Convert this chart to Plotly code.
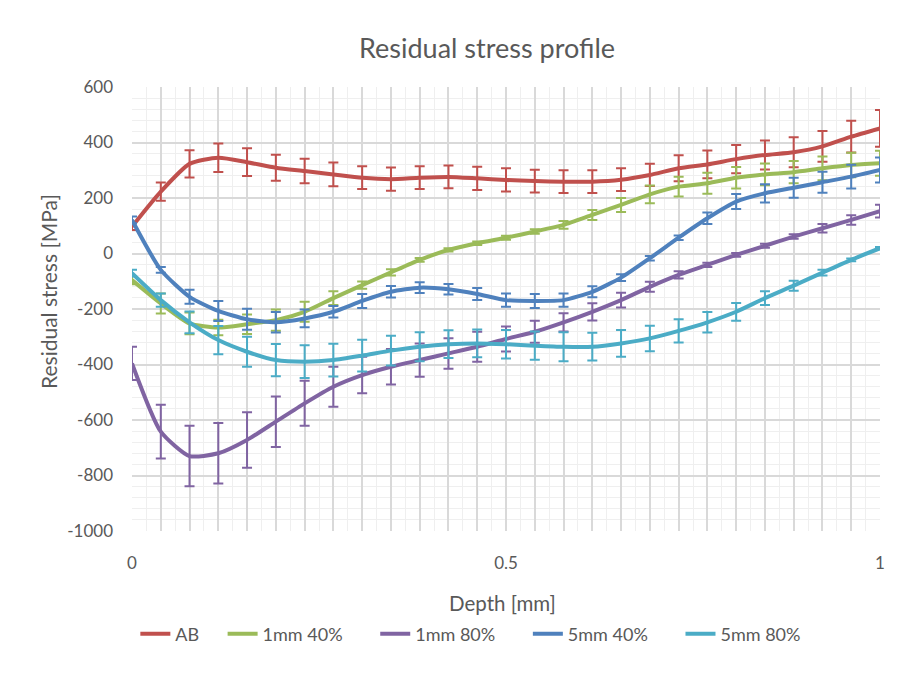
import plotly.graph_objects as go

depth = [0, 0.0385, 0.0769, 0.1154, 0.1538, 0.1923, 0.2308, 0.2692, 0.3077, 0.3462,
         0.3846, 0.4231, 0.4615, 0.5, 0.5385, 0.5769, 0.6154, 0.6538, 0.6923, 0.7308,
         0.7692, 0.8077, 0.8462, 0.8846, 0.9231, 0.9615, 1.0]

ab = [97, 223, 323, 345, 329, 309, 297, 285, 273, 268, 273, 276, 271, 265, 261, 259, 259,
      266, 283, 307, 321, 340, 355, 365, 386, 421, 451]
ab_err = [12, 33, 49, 51, 50, 47, 44, 43, 41, 42, 41, 41, 42, 42, 41, 41, 41, 41, 40, 47,
          50, 51, 52, 54, 55, 57, 66]

g40 = [-96, -180, -252, -267, -255, -240, -210, -161, -114, -68, -23, 13, 37, 57, 79, 103,
       139, 175, 213, 241, 253, 273, 285, 293, 307, 319, 325]
g40_err = [15, 36, 39, 28, 35, 38, 36, 25, 13, 11, 7, 6, 6, 7, 8, 14, 18, 25, 32, 36, 38,
           39, 39, 40, 43, 44, 45]

p80 = [-396, -642, -730, -720, -672, -606, -540, -480, -438, -408, -384, -360, -336, -308,
       -282, -248, -210, -168, -120, -77, -41, -5, 28, 61, 91, 121, 153]
p80_err = [60, 97, 109, 109, 100, 91, 81, 72, 66, 64, 60, 55, 54, 45, 40, 33, 31, 27, 18,
           13, 8, 7, 7, 8, 15, 17, 23]

b40 = [121, -59, -156, -207, -237, -248, -234, -210, -171, -138, -123, -129, -146, -168,
       -171, -168, -138, -87, -17, 57, 127, 187, 217, 237, 257, 277, 301]
b40_err = [12, 10, 25, 36, 38, 37, 32, 21, 25, 21, 19, 19, 22, 24, 25, 24, 20, 12, 8, 8,
           21, 27, 33, 36, 38, 43, 45]

c80 = [-71, -168, -248, -312, -354, -384, -390, -384, -368, -350, -336, -327, -324, -327,
       -332, -336, -336, -324, -306, -279, -248, -210, -161, -116, -69, -23, 19]
c80_err = [12, 24, 39, 51, 54, 58, 59, 59, 57, 54, 52, 50, 50, 51, 51, 52, 50, 48, 46, 42,
           37, 32, 25, 18, 10, 5, 4]

y_ticks = [-1000, -800, -600, -400, -200, 0, 200, 400, 600]
y_labels = ["-1000", "-800", "-600", "-400", "-200", "0", "200", "400", "600"]

series = [
    ("AB", ab, ab_err, "#C0504D"),
    ("1mm 40%", g40, g40_err, "#9BBB59"),
    ("1mm 80%", p80, p80_err, "#8064A2"),
    ("5mm 40%", b40, b40_err, "#4F81BD"),
    ("5mm 80%", c80, c80_err, "#4BACC6"),
]
# invisible padding after legend labels to reproduce the wider item spacing
pads = [4, 6, 6, 6, 0]

FONT = "Lato"
TXT = "#595959"

fig = go.Figure()
for (name, vals, err, col), pad in zip(series, pads):
    fig.add_trace(go.Scatter(
        x=depth, y=vals, name=name + "\u00a0" * pad, mode="lines",
        line=dict(color=col, width=4, shape="spline", smoothing=0.6),
        error_y=dict(type="data", array=err, visible=True, color=col,
                     thickness=2, width=5),
    ))

ticktext = ["" for _ in depth]
ticktext[0] = "0"
ticktext[13] = "0.5"
ticktext[-1] = "1"

# page body has an 8px margin: plot area lands at screen x 132..880, y 87..531
fig.update_layout(
    width=902, height=665,
    margin=dict(l=124, r=30, t=79, b=142),
    paper_bgcolor="white", plot_bgcolor="white",
    font=dict(family=FONT, size=17, color=TXT),
    showlegend=True,
    legend=dict(orientation="h", x=0.453, xanchor="center", y=-0.232, yanchor="middle",
                font=dict(size=18, color=TXT), tracegroupgap=0),
    xaxis=dict(range=[0, 1], tickvals=depth, ticktext=ticktext, ticks="",
               showgrid=True, gridcolor="#D9D9D9", gridwidth=1.5,
               zeroline=False, showline=False, ticklabelstandoff=20,
               tickfont=dict(size=17),
               minor=dict(dtick=1/52, tick0=0, showgrid=True, gridcolor="#EFEFEF", gridwidth=1)),
    yaxis=dict(range=[-1000, 600], tickvals=y_ticks, ticktext=y_labels, ticks="",
               showgrid=True, gridcolor="#D9D9D9", gridwidth=1.5,
               zeroline=False, showline=False, ticklabelstandoff=18,
               tickfont=dict(size=17),
               minor=dict(dtick=40, tick0=0, showgrid=True, gridcolor="#EFEFEF", gridwidth=1)),
    annotations=[
        dict(text="Residual stress profile", xref="paper", yref="paper",
             x=(487 - 132) / 748, y=(531 - 47) / 444, xanchor="center", yanchor="middle",
             showarrow=False, font=dict(size=27, color=TXT, family=FONT)),
        dict(text="Residual stress [MPa]", xref="paper", yref="paper",
             x=(48 - 132) / 748, y=(531 - 292) / 444, xanchor="center", yanchor="middle",
             textangle=-90, showarrow=False, font=dict(size=21, color=TXT, family=FONT)),
        dict(text="Depth [mm]", xref="paper", yref="paper",
             x=(502 - 132) / 748, y=(531 - 603) / 444, xanchor="center", yanchor="middle",
             showarrow=False, font=dict(size=20.5, color=TXT, family=FONT)),
    ],
    shapes=[
        dict(type="rect", xref="paper", yref="paper",
             x0=(6 - 132) / 748, x1=(905 - 132) / 748,
             y0=(531 - 690) / 444, y1=(531 - 2) / 444,
             line=dict(color="#D9D9D9", width=1), fillcolor="rgba(0,0,0,0)", layer="below"),
    ],
)

fig.write_html("out.html")
